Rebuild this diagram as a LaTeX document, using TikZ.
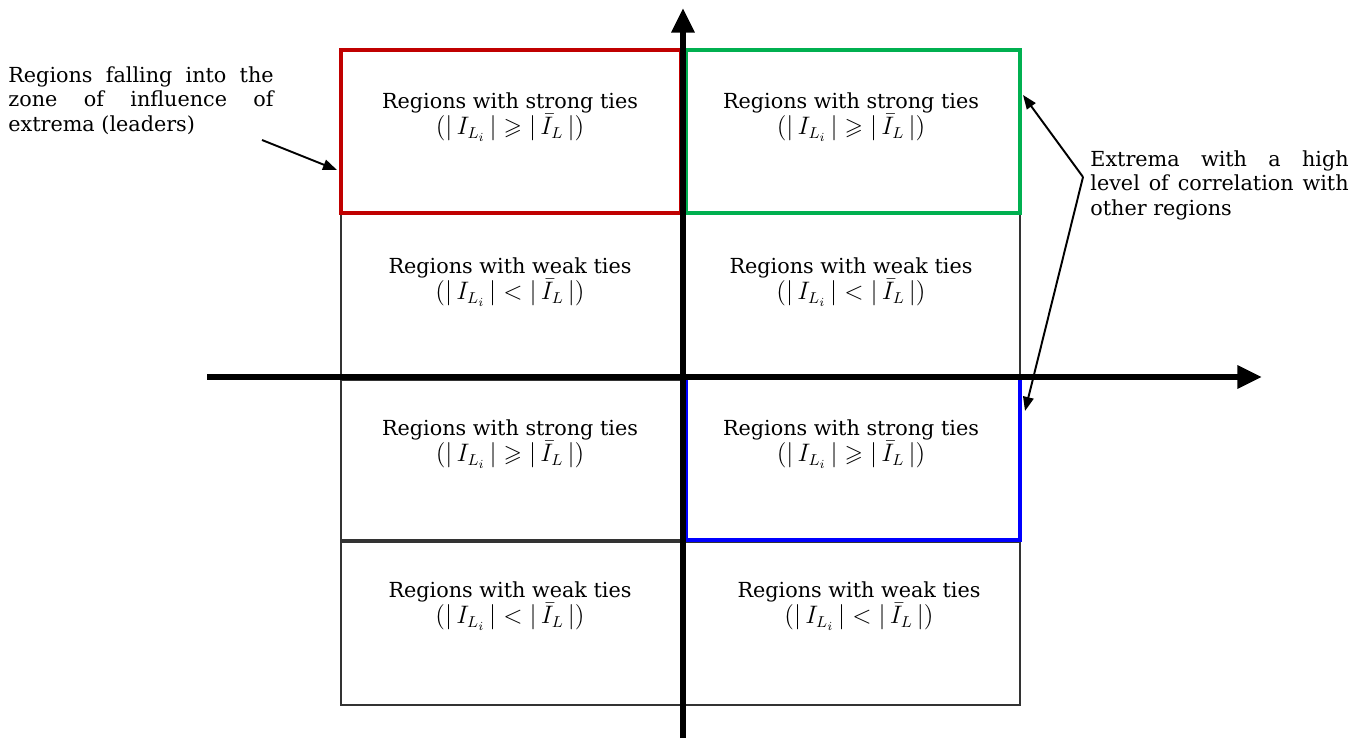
\documentclass[tikz,border=0pt]{standalone}
\usepackage{fontspec}
\usepackage{amssymb}
\setmainfont{DejaVu Serif}
\usetikzlibrary{arrows.meta}

\definecolor{lead}{RGB}{192,0,0}
\definecolor{extgreen}{RGB}{0,176,80}
\definecolor{extblue}{RGB}{0,0,255}

\tikzset{
  cellbox/.style={draw=black!80, line width=0.6pt},
  hotbox/.style={line width=2.8pt},
  axis/.style={line width=3.4pt, -{Triangle[length=14pt,width=12.5pt]}},
  pointer/.style={line width=1.1pt, -{Triangle[length=8pt,width=6pt]}},
  celltext/.style={align=center, font=\fontsize{11.8}{15}\selectfont},
  note/.style={inner sep=0pt, align=justify, font=\fontsize{11.8}{14}\selectfont, anchor=north west}
}

\newcommand{\strongrel}{{\fontsize{13.5}{15}\selectfont$(|\,I_{L_i}\,| \geqslant |\,\bar{I}_L\,|)$}}
\newcommand{\weakrel}{{\fontsize{13.5}{15}\selectfont$(|\,I_{L_i}\,| < |\,\bar{I}_L\,|)$}}

\begin{document}
\begin{tikzpicture}[x=0.02cm, y=-0.02cm]
    \useasboundingbox (0,0) rectangle (1368,739);

    % grid of regions
    \draw[cellbox] (341,213) rectangle (683,377);
    \draw[cellbox] (685,213) rectangle (1020,377);
    \draw[cellbox] (341,380) rectangle (683,540);
    \draw[cellbox] (341,542) rectangle (683,705);
    \draw[cellbox] (685,542) rectangle (1020,705);

    \draw[hotbox, draw=lead] (341,50) rectangle (681,213);
    \draw[hotbox, draw=extgreen] (686,50) rectangle (1020,213);
    \draw[hotbox, draw=extblue] (686,378) rectangle (1020,540);

    % axes
    \draw[axis] (207,377) -- (1262,377);
    \draw[axis] (683,738) -- (683,8);

    % texts
    \node[celltext] (ls1) at (510,117) {Regions with strong ties\\ \strongrel};
    \node[celltext] (rs1) at (851,117) {Regions with strong ties\\ \strongrel};
    \node[celltext] (lw2) at (510,282) {Regions with weak ties\\ \weakrel};
    \node[celltext] (rw2) at (851,282) {Regions with weak ties\\ \weakrel};
    \node[celltext] (ls3) at (510,444) {Regions with strong ties\\ \strongrel};
    \node[celltext] (rs3) at (851,444) {Regions with strong ties\\ \strongrel};
    \node[celltext] (lw4) at (510,606) {Regions with weak ties\\ \weakrel};
    \node[celltext] (rw4) at (859,606) {Regions with weak ties\\ \weakrel};

    % notes
    \node[note, text width=151pt] (leaders) at (8,66) {%
      Regions falling into the\linebreak
      zone of influence of\linebreak
      extrema (leaders)};
    \node[note, text width=147pt] (extrema) at (1090,150) {%
      Extrema with a high\linebreak
      level of correlation with\linebreak
      other regions};

    \coordinate (leadfoot) at (262,140);
    \coordinate (redtip) at (337,170);
    \coordinate (fork) at (1083,177);
    \coordinate (greentip) at (1023,95);
    \coordinate (bluetip) at (1025,411);

    \draw[pointer] (leadfoot) -- (redtip);
    \draw[pointer] (fork) -- (greentip);
    \draw[pointer] (fork) -- (bluetip);

\end{tikzpicture}
\end{document}
